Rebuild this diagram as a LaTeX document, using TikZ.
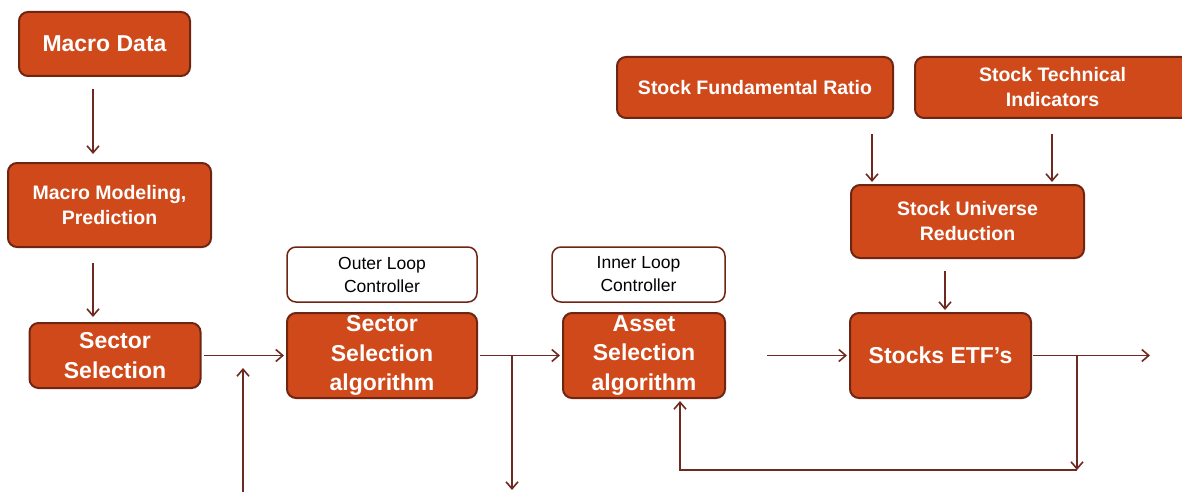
\documentclass[tikz,border=0pt]{standalone}
\usepackage{fontspec}
\setmainfont{Liberation Sans}
\usetikzlibrary{arrows.meta}
\definecolor{boxfill}{HTML}{D0491B}
\definecolor{boxline}{HTML}{6E2512}
\definecolor{arrline}{HTML}{6E2A20}

\begin{document}
\begin{tikzpicture}[x=1pt,y=-1pt,
  blk/.style 2 args={draw=boxline,line width=2pt,fill=boxfill,text=white,rounded corners=9pt,
    minimum width=#1,minimum height=#2,align=center,inner sep=0pt},
  ctl/.style 2 args={draw=boxline,line width=1.5pt,fill=white,text=black,rounded corners=9pt,
    minimum width=#1,minimum height=#2,align=center,inner sep=0pt,font=\fontsize{17.5}{23}\selectfont},
  big/.style={font=\fontsize{23}{29.5}\selectfont\bfseries},
  mid/.style={font=\fontsize{19.5}{25}\selectfont\bfseries},
  arr/.style={draw=arrline,line width=1.6pt,-{Straight Barb[length=7pt,width=12pt]}},
  ln/.style={draw=arrline,line width=1.6pt}]
\useasboundingbox (0,0) rectangle (1182,492);
% left column
\node[blk={171pt}{64pt},big] (macro) at (104.5,44) {Macro Data};
\node[blk={203pt}{84pt},mid] (model) at (109.5,205) {Macro Modeling,\\Prediction};
\node[blk={171pt}{65pt},big] (sector) at (115,355.5) {Sector\\Selection};
% controllers
\node[ctl={190pt}{55pt}] (outer) at (382,274.5) {Outer Loop\\Controller};
\node[blk={190pt}{85pt},big] (ssalg) at (382,355.5) {Sector\\Selection\\algorithm};
\node[ctl={173pt}{55pt}] (inner) at (638.5,274.5) {Inner Loop\\Controller};
\node[blk={162pt}{85pt},big] (asalg) at (644,355.5) {Asset\\Selection\\algorithm};
% stock side
\node[blk={181pt}{85pt},big] (etf) at (940.5,355.5) {Stocks ETF’s};
\node[blk={233pt}{73pt},mid] (sur) at (967.5,221.5) {Stock Universe\\Reduction};
\node[blk={276pt}{61pt},mid] (fund) at (755,87.5) {Stock Fundamental Ratio};
\node[blk={275pt}{61pt},mid] (tech) at (1052.5,87.5) {Stock Technical\\Indicators};
% free ends
\coordinate (mktin) at (243,492);
\coordinate (mkttip) at (243,368);
\coordinate (outdown) at (512,490);
\coordinate (out) at (1150,355.5);
\coordinate (fbk) at (1077,470);

\draw[arr,shorten <=12pt,shorten >=8pt] (macro.south -| 93,0) -- (model.north -| 93,0);
\draw[arr,shorten <=15pt,shorten >=5pt] (model.south -| 93,0) -- (sector.north -| 93,0);
\draw[arr,shorten <=2pt,shorten >=2pt] (sector.east) -- (sector.east -| ssalg.west);
\draw[arr] (mktin) -- (mkttip);
\draw[arr,shorten <=2pt,shorten >=2pt] (ssalg.east) -- (asalg.west);
\draw[arr] (ssalg.east -| outdown) -- (outdown);
\draw[arr,shorten <=41pt,shorten >=2pt] (asalg.east) -- (etf.west);
\draw[arr,shorten <=1pt] (etf.east) -- (out);
\draw[arr] (etf.east -| fbk) -- (fbk);
\draw[arr,shorten >=2pt] (fbk) -| ([xshift=36pt]asalg.south);
\draw[arr,shorten <=15pt,shorten >=2pt] (fund.south -| 872,0) -- (sur.north -| 872,0);
\draw[arr,shorten <=15pt,shorten >=2pt] (tech.south -| 1052,0) -- (sur.north -| 1052,0);
\draw[arr,shorten <=12pt,shorten >=2pt] (sur.south -| 945,0) -- (etf.north -| 945,0);
\end{tikzpicture}
\end{document}
